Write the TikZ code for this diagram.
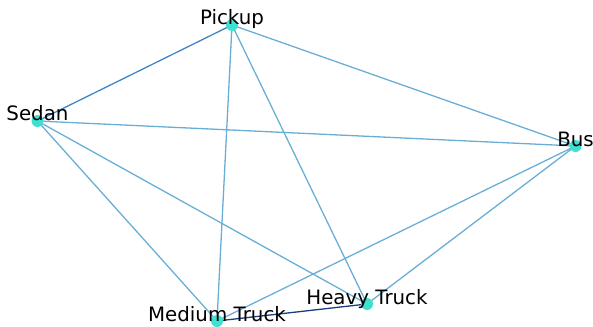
\documentclass[tikz,border=0pt]{standalone}
\usepackage{fontspec}
\setmainfont{DejaVu Sans}
\definecolor{elight}{HTML}{6AAED6}
\definecolor{emid}{HTML}{3F86C6}
\definecolor{edark}{HTML}{1C3D7E}
\definecolor{nodefill}{HTML}{40E0D0}
\begin{document}
\begin{tikzpicture}[x=1pt,y=-1pt,
  vert/.style={circle,fill=nodefill,inner sep=0pt,minimum size=12pt},
  lbl/.style={anchor=base,inner sep=0pt,font=\fontsize{19.8}{22}\selectfont},
  edge/.style={line width=1.3pt,elight}]
\useasboundingbox (0,0) rectangle (593,326);
\coordinate (P) at (232,25);
\coordinate (S) at (37.5,121);
\coordinate (B) at (575.5,146);
\coordinate (H) at (367,304);
\coordinate (M) at (217,321);
\draw[edge] (P) -- (B);
\draw[edge] (P) -- (M);
\draw[edge] (P) -- (H);
\draw[edge] (S) -- (B);
\draw[edge] (S) -- (M);
\draw[edge] (S) -- (H);
\draw[edge] (B) -- (M);
\draw[edge] (B) -- (H);
\draw[edge,emid] (P) -- (S);
\draw[edge,edark] (M) -- (H);
\node[vert] (p) at (P) {};
\node[vert] (s) at (S) {};
\node[vert] (b) at (B) {};
\node[vert] (h) at (H) {};
\node[vert] (m) at (M) {};
\node[lbl] (pl) at (P) {Pickup};
\node[lbl] (sl) at (S) {Sedan};
\node[lbl] (bl) at (B) {Bus};
\node[lbl] (hl) at (H) {Heavy Truck};
\node[lbl] (ml) at (M) {Medium Truck};
\end{tikzpicture}
\end{document}
